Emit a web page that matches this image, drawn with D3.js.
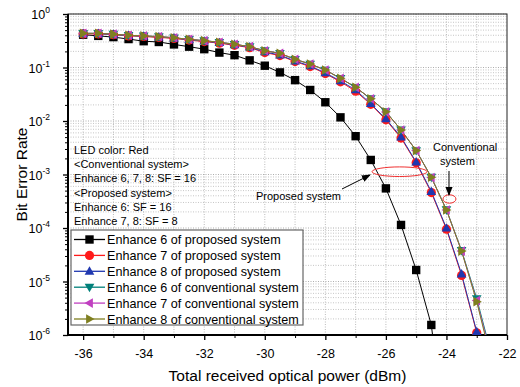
<!DOCTYPE html>
<html>
<head>
<meta charset="utf-8">
<script src="https://cdn.jsdelivr.net/npm/d3@7"></script>
<style>
  body { margin: 0; background: #fff; }
  text { font-family: Arial, "Liberation Sans", sans-serif; }
</style>
</head>
<body>
<svg id="chart"></svg>
<script>
var width = 520
var height = 387
var margin = { left: 68, right: 13, top: 14, bottom: 52 }

// received optical power (dBm)
var power = [-36, -35.5, -35, -34.5, -34, -33.5, -33, -32.5, -32, -31.5, -31, -30.5, -30,
    -29.5, -29, -28.5, -28, -27.5, -27, -26.5, -26, -25.5, -25, -24.5, -24, -23.5, -23, -22.5]

var propEnh6 = [0.41, 0.39, 0.37, 0.34, 0.31, 0.30, 0.27, 0.245, 0.22, 0.19, 0.17, 0.136, 0.108,
    0.081, 0.058, 0.038, 0.0224, 0.0117, 0.0052, 0.00187, 0.00055, 1.14e-4, 1.64e-5, 1.54e-6, 8e-9, null, null, null]
var propEnh7 = [0.425, 0.425, 0.41, 0.39, 0.38, 0.365, 0.35, 0.325, 0.305, 0.285, 0.26, 0.235, 0.19,
    0.167, 0.129, 0.104, 0.077, 0.054, 0.036, 0.0205, 0.0105, 0.0048, 0.00165, 4.6e-4, 9.5e-5, 1.3e-5, 1.1e-6, 5e-8]
var propEnh8 = [0.43, 0.43, 0.415, 0.395, 0.385, 0.37, 0.355, 0.33, 0.31, 0.29, 0.265, 0.24, 0.195,
    0.171, 0.132, 0.107, 0.079, 0.056, 0.038, 0.021, 0.0109, 0.0050, 0.00171, 4.8e-4, 9.9e-5, 1.38e-5, 1.15e-6, 5e-8]
var convEnh6 = [0.435, 0.435, 0.42, 0.40, 0.39, 0.377, 0.36, 0.336, 0.317, 0.296, 0.272, 0.245, 0.206,
    0.184, 0.142, 0.116, 0.0897, 0.0628, 0.0427, 0.0261, 0.0149, 0.0068, 0.0028, 8.9e-4, 2.2e-4, 3.8e-5, 4.8e-6, 4e-7]
var convEnh7 = [0.435, 0.435, 0.42, 0.40, 0.39, 0.377, 0.36, 0.336, 0.317, 0.296, 0.272, 0.245, 0.206,
    0.184, 0.142, 0.116, 0.0895, 0.0627, 0.0426, 0.026, 0.0148, 0.0068, 0.0028, 8.8e-4, 2.17e-4, 3.7e-5, 4.4e-6, 3.5e-7]
var convEnh8 = [0.435, 0.435, 0.42, 0.40, 0.39, 0.377, 0.36, 0.336, 0.317, 0.296, 0.272, 0.245, 0.206,
    0.184, 0.142, 0.116, 0.0897, 0.0628, 0.0427, 0.0261, 0.0149, 0.0068, 0.0028, 8.9e-4, 2.17e-4, 3.7e-5, 4.2e-6, 3e-7]

var seriesNames = [
    "Enhance 6 of proposed system",
    "Enhance 7 of proposed system",
    "Enhance 8 of proposed system",
    "Enhance 6 of conventional system",
    "Enhance 7 of conventional system",
    "Enhance 8 of conventional system"
]
var seriesValues = [propEnh6, propEnh7, propEnh8, convEnh6, convEnh7, convEnh8]
var seriesColors = ["#000000", "#ff1a1a", "#2038b0", "#00807a", "#c040c0", "#7f7f20"]
var seriesShapes = ["square", "circle", "up", "down", "left", "right"]

var xTicks = [-36, -34, -32, -30, -28, -26, -24, -22]
var yExponents = [0, -1, -2, -3, -4, -5, -6]

var noteLines = ["LED color: Red", "<Conventional system>", "Enhance 6, 7, 8: SF = 16",
    "<Proposed system>", "Enhance 6: SF = 16", "Enhance 7, 8: SF = 8"]

var svg = d3.select("#chart").attr("width", width).attr("height", height)

var x = d3.scaleLinear().domain([-36.5, -22]).range([margin.left, width - margin.right])
var y = d3.scaleLog().domain([1e-6, 1]).range([height - margin.bottom, margin.top])

var x0 = margin.left, x1 = width - margin.right
var y0 = margin.top, y1 = height - margin.bottom

svg.append("clipPath").attr("id", "plotclip")
    .append("rect").attr("x", x0).attr("y", y0).attr("width", x1 - x0).attr("height", y1 - y0)

// grid
var grid = svg.append("g")
var minorY = []
yExponents.slice(0, -1).forEach(function (e) {
    for (var k = 2; k < 10; k++) minorY.push(k * Math.pow(10, e - 1))
})
grid.selectAll(".gy").data(minorY).enter().append("line")
    .attr("x1", x0).attr("x2", x1)
    .attr("y1", d => y(d)).attr("y2", d => y(d))
    .attr("stroke", "#b8b8b8").attr("stroke-width", 0.8).attr("stroke-dasharray", "1,1.5")
grid.selectAll(".gY").data(yExponents).enter().append("line")
    .attr("x1", x0).attr("x2", x1)
    .attr("y1", d => y(Math.pow(10, d))).attr("y2", d => y(Math.pow(10, d)))
    .attr("stroke", "#999").attr("stroke-width", 0.8).attr("stroke-dasharray", "1,1.5")
grid.selectAll(".gx").data(d3.range(-36, -22, 1)).enter().append("line")
    .attr("x1", d => x(d)).attr("x2", d => x(d))
    .attr("y1", y0).attr("y2", y1)
    .attr("stroke", "#aaa").attr("stroke-width", 0.8).attr("stroke-dasharray", "1,1.5")

// axes
var xAxis = d3.axisBottom(x).tickValues(xTicks).tickSize(5).tickSizeOuter(0).tickFormat(d3.format("d"))
var gx = svg.append("g").attr("transform", `translate(0, ${y1})`).call(xAxis)
gx.select(".domain").remove()
gx.selectAll("text").attr("font-size", 12.5).attr("dy", "1.2em").attr("fill", "#000")
    .text(d => String(d).replace("\u2212", "-"))
gx.selectAll("line").attr("stroke-width", 1.3)
svg.append("g").attr("transform", `translate(0, ${y1})`)
    .call(d3.axisBottom(x).tickValues(d3.range(-35, -22, 2)).tickSize(3).tickFormat(""))
    .call(g => g.select(".domain").remove())

var yAxis = d3.axisLeft(y).tickValues(yExponents.map(e => Math.pow(10, e))).tickSize(5).tickFormat("")
var gy = svg.append("g").attr("transform", `translate(${x0}, 0)`).call(yAxis)
gy.select(".domain").remove()
gy.selectAll("line").attr("stroke-width", 1.3)
svg.append("g").attr("transform", `translate(${x0}, 0)`)
    .call(d3.axisLeft(y).tickValues(minorY).tickSize(3).tickFormat(""))
    .call(g => g.select(".domain").remove())

var yl = svg.append("g").selectAll("text").data(yExponents).enter().append("text")
    .attr("x", 50).attr("y", d => y(Math.pow(10, d)) + 5)
    .attr("text-anchor", "end").attr("font-size", 12.5)
yl.append("tspan").text("10")
yl.append("tspan").attr("dy", -6).attr("font-size", 8.5).text(d => d === 0 ? "0" : "-" + Math.abs(d))

// frame
svg.append("rect").attr("x", x0).attr("y", y0).attr("width", x1 - x0).attr("height", y1 - y0)
    .attr("fill", "none").attr("stroke", "#222").attr("stroke-width", 1)
svg.append("path").attr("d", `M${x0},${y0}V${y1}H${x1}`)
    .attr("fill", "none").attr("stroke", "#000").attr("stroke-width", 2)

// titles
svg.append("text").attr("x", (x0 + x1) / 2).attr("y", 381)
    .attr("text-anchor", "middle").attr("font-size", 15.5).text("Total received optical power (dBm)")
svg.append("text").attr("transform", `translate(27, ${(y0 + y1) / 2}) rotate(-90)`)
    .attr("text-anchor", "middle").attr("font-size", 15.5).text("Bit Error Rate")

// markers
function markerPath(shape, s) {
    if (shape === "square") return `M${-s},${-s}H${s}V${s}H${-s}Z`
    if (shape === "circle") return d3.symbol(d3.symbolCircle, Math.PI * s * s * 1.2)()
    if (shape === "up") return `M0,${-s * 1.2}L${s * 1.15},${s * 0.8}L${-s * 1.15},${s * 0.8}Z`
    if (shape === "down") return `M0,${s * 1.2}L${s * 1.15},${-s * 0.8}L${-s * 1.15},${-s * 0.8}Z`
    if (shape === "left") return `M${-s * 1.2},0L${s * 0.8},${s * 1.15}L${s * 0.8},${-s * 1.15}Z`
    return `M${s * 1.2},0L${-s * 0.8},${s * 1.15}L${-s * 0.8},${-s * 1.15}Z`
}

var plot = svg.append("g").attr("clip-path", "url(#plotclip)")
var line = d3.line().defined(d => d[1] !== null).x(d => x(d[0])).y(d => y(d[1]))

seriesValues.forEach(function (vals, i) {
    var pts = power.map((p, j) => [p, vals[j]])
    plot.append("path").datum(pts).attr("d", line)
        .attr("fill", "none").attr("stroke", seriesColors[i]).attr("stroke-width", 1)
})
seriesValues.forEach(function (vals, i) {
    var pts = power.map((p, j) => [p, vals[j]]).filter(d => d[1] !== null)
    plot.selectAll(".m" + i).data(pts).enter().append("path")
        .attr("transform", d => `translate(${x(d[0])},${y(d[1])})`)
        .attr("d", markerPath(seriesShapes[i], 4.2))
        .attr("fill", seriesColors[i])
})

// annotation text
svg.append("g").selectAll("text").data(noteLines).enter().append("text")
    .attr("x", 74).attr("y", (d, i) => 154 + i * 14.2)
    .attr("font-size", 11).text(d => d)

// ellipses and arrows
svg.append("defs").append("marker").attr("id", "arrowhead")
    .attr("viewBox", "0 0 10 10").attr("refX", 9).attr("refY", 5)
    .attr("markerWidth", 9).attr("markerHeight", 9).attr("orient", "auto")
    .append("path").attr("d", "M0,1L10,5L0,9Z").attr("fill", "#000")

svg.append("ellipse").attr("cx", x(-25.55)).attr("cy", 171.7).attr("rx", 27.5).attr("ry", 4.8)
    .attr("fill", "none").attr("stroke", "#f03030").attr("stroke-width", 1)
svg.append("ellipse").attr("cx", x(-23.9)).attr("cy", 199).attr("rx", 6.5).attr("ry", 4.2)
    .attr("fill", "none").attr("stroke", "#f03030").attr("stroke-width", 1)

svg.append("line").attr("x1", 342).attr("y1", 189).attr("x2", 370).attr("y2", 175)
    .attr("stroke", "#000").attr("stroke-width", 1).attr("marker-end", "url(#arrowhead)")
svg.append("line").attr("x1", 449).attr("y1", 171).attr("x2", 449).attr("y2", 195)
    .attr("stroke", "#000").attr("stroke-width", 1).attr("marker-end", "url(#arrowhead)")

svg.append("text").attr("x", 256).attr("y", 200).attr("font-size", 11).text("Proposed system")
svg.append("text").attr("x", 433).attr("y", 151).attr("font-size", 11).text("Conventional")
svg.append("text").attr("x", 440).attr("y", 165).attr("font-size", 11).text("system")

// legend
var lg = svg.append("g")
lg.append("rect").attr("x", 71).attr("y", 230).attr("width", 232).attr("height", 95)
    .attr("fill", "#fff").attr("stroke", "#666").attr("stroke-width", 1.2)
var items = lg.selectAll(".li").data(seriesNames).enter().append("g")
    .attr("transform", (d, i) => `translate(0, ${239.5 + i * 15.9})`)
items.append("line").attr("x1", 74).attr("x2", 105).attr("y1", 0).attr("y2", 0)
    .attr("stroke", (d, i) => seriesColors[i]).attr("stroke-width", 1.3)
items.append("path").attr("transform", "translate(89.5, 0)")
    .attr("d", (d, i) => markerPath(seriesShapes[i], 4.2))
    .attr("fill", (d, i) => seriesColors[i])
items.append("text").attr("x", 107).attr("y", 4.5).attr("font-size", 12.6).text(d => d)
</script>
</body>
</html>
